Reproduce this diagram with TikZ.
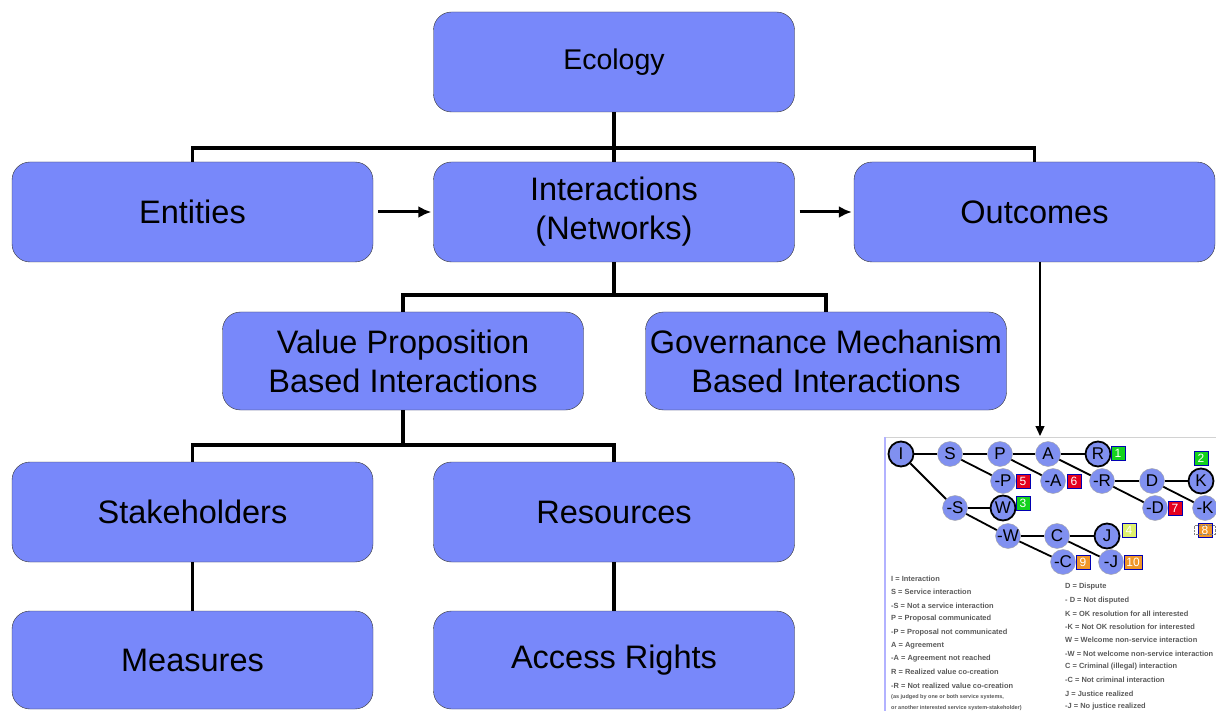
\documentclass[tikz,border=0pt]{standalone}
\usepackage{fontspec}
\setmainfont{Liberation Sans}
\usepackage{tikz}
\usetikzlibrary{arrows.meta, positioning}
\definecolor{boxblue}{RGB}{120,136,250}
\definecolor{dotblue}{RGB}{128,144,240}
\definecolor{okgreen}{RGB}{20,210,30}
\definecolor{badred}{RGB}{228,0,30}
\definecolor{midorange}{RGB}{240,150,40}
\definecolor{paleyellow}{RGB}{222,240,110}
\definecolor{legendgray}{RGB}{90,90,90}

\tikzset{
	box/.style={draw=black!80, fill=boxblue, rounded corners=18pt, minimum width=361pt, minimum height=100pt, align=center, font=\fontsize{32.5}{39}\selectfont},
	conn/.style={line width=3.5pt},
	flow/.style={line width=3pt, -{Latex[length=13pt,width=12pt]}},
	tnode/.style={circle, draw=gray!70, fill=dotblue, minimum size=25pt, inner sep=0pt, font=\fontsize{17}{17}\selectfont},
	tend/.style={tnode, draw=black, line width=1.8pt},
	tedge/.style={line width=1.8pt},
	tag/.style={draw=blue!70!black, line width=0.8pt, minimum size=14pt, inner sep=0pt, text=white, font=\fontsize{12}{12}\selectfont},
	legend/.style={anchor=west, inner sep=0pt, text=legendgray, font=\fontsize{7.45}{8}\selectfont\bfseries}
}

\begin{document}
\begin{tikzpicture}[x=1pt, y=-1pt]
	\useasboundingbox (0,0) rectangle (1216,711);
	% main boxes
	\node [box, font=\fontsize{28.5}{34}\selectfont] (eco) at (614,62) {Ecology};
	\node [box] (ent) at (192.5,212) {Entities};
	\node [box] (inter) at (614,212) {Interactions\\(Networks)};
	\node [box] (out) at (1034.5,212) {Outcomes};
	\node [box, minimum height=98pt] (vp) at (403,361) {Value Proposition\\Based Interactions};
	\node [box, minimum height=98pt] (gov) at (826,361) {Governance Mechanism\\Based Interactions};
	\node [box] (stake) at (192.5,512) {Stakeholders};
	\node [box] (res) at (614,512) {Resources};
	\node [box, minimum height=98pt] (meas) at (192.5,660) {Measures};
	\node [box, minimum height=98pt] (acc) at (614,660) {Access Rights};

	% tree connectors
	\coordinate (bus1) at (614,148);
	\coordinate (bus2) at (614,295);
	\coordinate (bus3) at (403,445);
	\draw [conn] (eco.south) -- (bus1);
	\draw [conn] (ent.north) |- (bus1) -| (out.north);
	\draw [conn] (bus1) -- (inter.north);
	\draw [conn] (inter.south) -- (bus2);
	\draw [conn] (vp.north) |- (bus2) -| (gov.north);
	\draw [conn] (vp.south) -- (bus3);
	\draw [conn] (stake.north) |- (bus3) -| (res.north);
	\draw [conn] (stake.south) -- (meas.north);
	\draw [conn] (res.south) -- (acc.north);

	\draw [flow] ([xshift=5pt]ent.east) -- ([xshift=-2pt]inter.west);
	\draw [flow] ([xshift=5pt]inter.east) -- ([xshift=-2pt]out.west);

	% inset figure
	\coordinate (figtop) at (1040,436);
	\fill [white] (885,437) rectangle (1216,711);
	\draw [gray!35, line width=1pt] (885,437) -- (1216,437);
	\draw [blue!30, line width=1.5pt] (885,437) -- (885,711);
	\draw [line width=1.2pt, -{Triangle[length=10pt,width=9pt]}] ([xshift=5.5pt]out.south) -- (figtop);

	\node [tend] (tI) at (901,454) {I};
	\node [tnode] (tS) at (950,454) {S};
	\node [tnode] (tP) at (1000,454) {P};
	\node [tnode] (tA) at (1048,454) {A};
	\node [tend] (tR) at (1098,454) {R};
	\node [tnode] (tnP) at (1003,481) {-P};
	\node [tnode] (tnA) at (1053,481) {-A};
	\node [tnode] (tnR) at (1102,481) {-R};
	\node [tnode] (tD) at (1152,481) {D};
	\node [tend] (tK) at (1201,481) {K};
	\node [tnode] (tnS) at (955,508) {-S};
	\node [tend] (tW) at (1003,508) {W};
	\node [tnode] (tnD) at (1155,508) {-D};
	\node [tnode] (tnK) at (1205,508) {-K};
	\node [tnode] (tnW) at (1008,536) {-W};
	\node [tnode] (tC) at (1057,536) {C};
	\node [tend] (tJ) at (1107,536) {J};
	\node [tnode] (tnC) at (1063,562) {-C};
	\node [tnode] (tnJ) at (1111,562) {-J};

	\foreach \a/\b in {tI/tS, tI/tnS, tS/tP, tS/tnP, tP/tA, tP/tnA, tA/tR, tA/tnR, tnR/tD, tnR/tnD, tD/tK, tD/tnK, tnS/tW, tnS/tnW, tnW/tC, tnW/tnC, tC/tJ, tC/tnJ}{
		\draw [tedge] (\a) -- (\b);
	}

	\node [tag, fill=okgreen] (g1) at (1118,453) {1};
	\node [tag, fill=okgreen] (g2) at (1201,458) {2};
	\node [tag, fill=okgreen] (g3) at (1023,503) {3};
	\node [tag, fill=paleyellow] (g4) at (1129,530) {4};
	\node [tag, fill=badred] (g5) at (1023,481) {5};
	\node [tag, fill=badred] (g6) at (1074,481) {6};
	\node [tag, fill=badred] (g7) at (1175,508) {7};
	\node [tag, fill=midorange] (g8) at (1205,530) {8};
	\draw [gray, densely dotted] ([shift={(-3pt,-3pt)}]g8.north west) rectangle ([shift={(3pt,3pt)}]g8.south east);
	\node [tag, fill=midorange] (g9) at (1083,562) {9};
	\node [tag, fill=midorange, minimum width=18pt] (g10) at (1133,562) {10};

	% legend
	\foreach \t [count=\k] in {I = Interaction, S = Service interaction, -S = Not a service interaction, P = Proposal communicated, -P = Proposal not communicated, A = Agreement, -A = Agreement not reached, R = Realized value co-creation, -R = Not realized value co-creation}{
		\node [legend] (legl\k) at (891,{579+(\k-1)*13.3}) {\t};
	}
	\node [legend, font=\fontsize{5.5}{6}\selectfont\bfseries] (legx1) at (891,697) {(as judged by one or both service systems,};
	\node [legend, font=\fontsize{5.5}{6}\selectfont\bfseries] (legx2) at (891,708) {or another interested service system-stakeholder)};
	\foreach \t [count=\k] in {D = Dispute, - D = Not disputed, K = OK resolution for all interested, -K = Not OK resolution for interested, W = Welcome non-service interaction, -W = Not welcome non-service interaction, C = Criminal (illegal) interaction, -C = Not criminal interaction, J = Justice realized, -J = No justice realized}{
		\node [legend] (legr\k) at (1065,{587+(\k-1)*13.3}) {\t};
	}
\end{tikzpicture}
\end{document}
